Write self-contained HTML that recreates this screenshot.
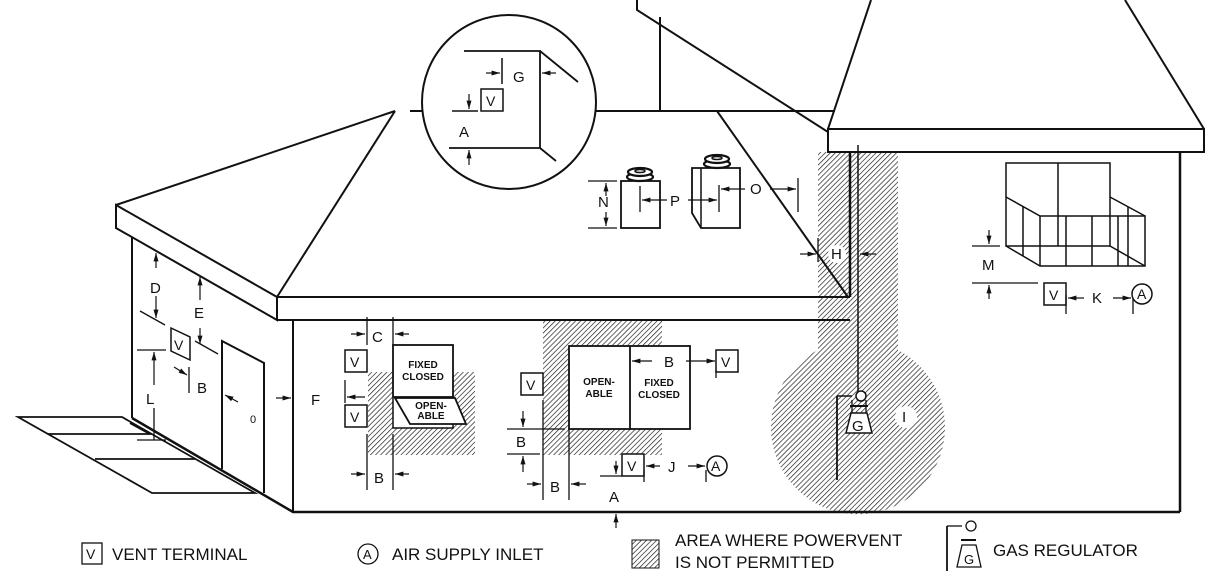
<!DOCTYPE html>
<html><head><meta charset="utf-8"><style>
html,body{margin:0;padding:0;background:#fff;}
svg{display:block;}
text{font-family:"Liberation Sans",Arial,sans-serif;fill:#111;}
</style></head><body>
<svg width="1223" height="584" viewBox="0 0 1223 584" xmlns="http://www.w3.org/2000/svg">
<defs>
<pattern id="h" width="3.6" height="3.6" patternUnits="userSpaceOnUse" patternTransform="rotate(45)">
<rect width="3.6" height="3.6" fill="#fff"/><line x1="0" y1="0" x2="0" y2="3.6" stroke="#222" stroke-width="1.4"/>
</pattern>
<marker id="ar" viewBox="0 0 10 10" refX="10" refY="5" markerWidth="7" markerHeight="7" orient="auto-start-reverse"><path d="M0,2 L10,5 L0,8 z" fill="#111"/></marker>
</defs>
<g stroke="#111" fill="none" stroke-width="2">
<rect x="368" y="372" width="107" height="83" fill="url(#h)" stroke="none"/>
<rect x="543" y="321" width="119" height="134" fill="url(#h)" stroke="none"/>
<path d="M818,152 H898 V350 A87,87 0 1 1 818,350 Z" fill="url(#h)" stroke="none"/>

<path d="M637,0 L637,10 L828,132" />
<line x1="828" y1="129" x2="871" y2="0"/>
<line x1="1204" y1="129" x2="1125" y2="0"/>
<rect x="828" y="129" width="376" height="23" fill="#fff"/>
<line x1="850" y1="152" x2="850" y2="297" stroke-width="2.5"/>
<line x1="858" y1="145" x2="858" y2="400" stroke-width="1.5"/>
<line x1="1180" y1="152" x2="1180" y2="512" stroke-width="2.5"/>
<line x1="660" y1="17" x2="660" y2="111"/>

<line x1="596" y1="111" x2="835" y2="111"/>
<line x1="717" y1="111" x2="848" y2="297"/>
<line x1="277" y1="297" x2="395" y2="111"/>
<line x1="116" y1="205" x2="395" y2="111"/>
<path d="M116,205 L116,228 L277,320 L277,297 Z" fill="#fff"/>
<path d="M277,297 H850" />
<path d="M277,320 H850" />

<line x1="293" y1="320" x2="293" y2="512"/>
<line x1="132" y1="237" x2="132" y2="418"/>
<path d="M132,418 L293,512 H1180" stroke-width="2.5"/>
<path d="M130,423 L150,434" />
<path d="M18,417 H122 L255,493 H152 Z" stroke-width="1.8"/>
<line x1="48" y1="434" x2="152" y2="434" stroke-width="1.8"/>
<line x1="95" y1="459" x2="195" y2="459" stroke-width="1.8"/>
<path d="M222,469 V341 L264,363 V493" />

<circle cx="509" cy="102" r="87" fill="#fff"/>
<line x1="410" y1="111" x2="422" y2="111"/>
<path d="M464,51 H540 V148 H449" stroke-width="1.8"/>
<line x1="540" y1="51" x2="578" y2="82" stroke-width="1.8"/>
<line x1="540" y1="148" x2="556" y2="161" stroke-width="1.8"/>
<rect x="481" y="89" width="22" height="22" stroke-width="1.5"/>
<line x1="502" y1="58" x2="502" y2="84" stroke-width="1.5"/>
<line x1="486" y1="73" x2="500" y2="73" stroke-width="1.2" marker-end="url(#ar)"/>
<line x1="556" y1="73" x2="542" y2="73" stroke-width="1.2" marker-end="url(#ar)"/>
<line x1="452" y1="111" x2="478" y2="111" stroke-width="1.5"/>
<line x1="469" y1="94" x2="469" y2="109" stroke-width="1.2" marker-end="url(#ar)"/>
<line x1="469" y1="165" x2="469" y2="150" stroke-width="1.2" marker-end="url(#ar)"/>

<rect x="621" y="181" width="39" height="47" fill="#fff" stroke-width="1.8"/>
<path d="M692,168 H740 V228 H701 L692,213 Z" fill="#fff" stroke-width="1.8"/>
<line x1="701" y1="168" x2="701" y2="228" stroke-width="1.5"/>
<ellipse cx="640" cy="177" rx="13" ry="4" fill="#fff" stroke-width="2.2"/>
<ellipse cx="640" cy="172" rx="12" ry="4" fill="#fff" stroke-width="2.2"/>
<ellipse cx="640" cy="171" rx="5" ry="1.5" fill="#fff" stroke-width="1.5"/>
<ellipse cx="717" cy="164" rx="13" ry="4" fill="#fff" stroke-width="2.2"/>
<ellipse cx="717" cy="159" rx="12" ry="4" fill="#fff" stroke-width="2.2"/>
<ellipse cx="717" cy="158" rx="5" ry="1.5" fill="#fff" stroke-width="1.5"/>
<line x1="588" y1="181" x2="617" y2="181" stroke-width="1.3"/>
<line x1="588" y1="228" x2="617" y2="228" stroke-width="1.3"/>
<line x1="606" y1="196" x2="606" y2="183" stroke-width="1.2" marker-end="url(#ar)"/>
<line x1="606" y1="212" x2="606" y2="226" stroke-width="1.2" marker-end="url(#ar)"/>
<line x1="640" y1="186" x2="640" y2="212" stroke-width="1.3"/>
<line x1="667" y1="200" x2="642" y2="200" stroke-width="1.2" marker-end="url(#ar)"/>
<line x1="688" y1="200" x2="717" y2="200" stroke-width="1.2" marker-end="url(#ar)"/>
<line x1="719" y1="185" x2="719" y2="212" stroke-width="1.3"/>
<line x1="745" y1="189" x2="721" y2="189" stroke-width="1.2" marker-end="url(#ar)"/>
<line x1="770" y1="189" x2="796" y2="189" stroke-width="1.2" marker-end="url(#ar)"/>
<line x1="798" y1="178" x2="798" y2="212" stroke-width="1.3"/>

<line x1="818" y1="238" x2="818" y2="262" stroke-width="1.3"/>
<line x1="800" y1="254" x2="816" y2="254" stroke-width="1.2" marker-end="url(#ar)"/>
<line x1="876" y1="254" x2="860" y2="254" stroke-width="1.2" marker-end="url(#ar)"/>
<circle cx="837" cy="254" r="9" fill="#fff" stroke="none"/>
<circle cx="906" cy="417" r="11" fill="#fff" stroke="none"/>

<g stroke-width="1.5">
<rect x="1006" y="163" width="104" height="83"/>
<line x1="1058" y1="163" x2="1058" y2="246"/>
<path d="M1006,197 L1040,216 H1145 V266 H1040 L1006,246"/>
<line x1="1110" y1="197" x2="1145" y2="216"/>
<line x1="1110" y1="246" x2="1145" y2="266"/>
<line x1="1040" y1="216" x2="1040" y2="266"/>
<line x1="1023" y1="206" x2="1023" y2="256"/>
<line x1="1066" y1="216" x2="1066" y2="266"/>
<line x1="1092" y1="216" x2="1092" y2="266"/>
<line x1="1118" y1="216" x2="1118" y2="266"/>
<line x1="1128" y1="207" x2="1128" y2="266"/>
</g>
<line x1="972" y1="246" x2="1000" y2="246" stroke-width="1.3"/>
<line x1="972" y1="283" x2="1038" y2="283" stroke-width="1.3"/>
<line x1="989" y1="230" x2="989" y2="244" stroke-width="1.2" marker-end="url(#ar)"/>
<line x1="989" y1="299" x2="989" y2="285" stroke-width="1.2" marker-end="url(#ar)"/>
<rect x="1044" y="283" width="22" height="22" stroke-width="1.5" fill="#fff"/>
<line x1="1066" y1="295" x2="1066" y2="314" stroke-width="1.3"/>
<line x1="1084" y1="298" x2="1068" y2="298" stroke-width="1.2" marker-end="url(#ar)"/>
<line x1="1113" y1="298" x2="1131" y2="298" stroke-width="1.2" marker-end="url(#ar)"/>
<line x1="1133" y1="295" x2="1133" y2="314" stroke-width="1.3"/>
<circle cx="1142" cy="294" r="10" fill="#fff" stroke-width="1.5"/>

<line x1="156" y1="268" x2="156" y2="253" stroke-width="1.2" marker-end="url(#ar)"/>
<line x1="156" y1="296" x2="156" y2="318" stroke-width="1.2" marker-end="url(#ar)"/>
<line x1="140" y1="311" x2="165" y2="325" stroke-width="1.3"/>
<line x1="200" y1="300" x2="200" y2="277" stroke-width="1.2" marker-end="url(#ar)"/>
<line x1="200" y1="328" x2="200" y2="344" stroke-width="1.2" marker-end="url(#ar)"/>
<line x1="195" y1="341" x2="218" y2="354" stroke-width="1.3"/>
<path d="M171,328 L190,337 V360 L171,351 Z" stroke-width="1.5" fill="#fff"/>
<line x1="137" y1="350" x2="166" y2="350" stroke-width="1.3"/>
<line x1="154" y1="385" x2="154" y2="352" stroke-width="1.2" marker-end="url(#ar)"/>
<line x1="154" y1="408" x2="154" y2="440" stroke-width="1.3"/>
<line x1="137" y1="440" x2="166" y2="440" stroke-width="1.3"/>
<line x1="174" y1="367" x2="187" y2="375" stroke-width="1.2" marker-end="url(#ar)"/>
<line x1="189" y1="367" x2="189" y2="393" stroke-width="1.3"/>
<line x1="225" y1="395" x2="238" y2="402" stroke-width="1.2" marker-start="url(#ar)"/>
<line x1="276" y1="398" x2="291" y2="398" stroke-width="1.2" marker-end="url(#ar)"/>

<line x1="367" y1="317" x2="367" y2="345" stroke-width="1.3"/>
<line x1="393" y1="317" x2="393" y2="345" stroke-width="1.3"/>
<line x1="351" y1="334" x2="365" y2="334" stroke-width="1.2" marker-end="url(#ar)"/>
<line x1="409" y1="334" x2="395" y2="334" stroke-width="1.2" marker-end="url(#ar)"/>
<rect x="393" y="345" width="60" height="52" fill="#fff" stroke-width="1.8"/>
<path d="M393,398 V428 H453 V424" stroke-width="1.5" fill="#fff"/>
<path d="M395,398 H455 L466,424 H410 Z" fill="#fff" stroke-width="1.8"/>
<rect x="345" y="350" width="22" height="22" fill="#fff" stroke-width="1.5"/>
<rect x="345" y="405" width="22" height="22" fill="#fff" stroke-width="1.5"/>
<line x1="345" y1="380" x2="345" y2="403" stroke-width="1.3"/>
<line x1="365" y1="397" x2="347" y2="397" stroke-width="1.2" marker-end="url(#ar)"/>
<line x1="367" y1="434" x2="367" y2="490" stroke-width="1.3"/>
<line x1="393" y1="434" x2="393" y2="490" stroke-width="1.3"/>
<line x1="351" y1="474" x2="365" y2="474" stroke-width="1.2" marker-end="url(#ar)"/>
<line x1="409" y1="474" x2="395" y2="474" stroke-width="1.2" marker-end="url(#ar)"/>

<rect x="569" y="346" width="121" height="83" fill="#fff" stroke-width="1.8"/>
<line x1="630" y1="346" x2="630" y2="429" stroke-width="1.8"/>
<line x1="652" y1="361" x2="632" y2="361" stroke-width="1.2" marker-end="url(#ar)"/>
<line x1="686" y1="361" x2="715" y2="361" stroke-width="1.2" marker-end="url(#ar)"/>
<rect x="716" y="350" width="22" height="22" fill="#fff" stroke-width="1.5"/>
<line x1="716" y1="370" x2="716" y2="378" stroke-width="1.3"/>
<rect x="521" y="373" width="22" height="22" fill="#fff" stroke-width="1.5"/>
<line x1="543" y1="400" x2="543" y2="500" stroke-width="1.3"/>
<line x1="569" y1="429" x2="569" y2="500" stroke-width="1.3"/>
<line x1="507" y1="429" x2="565" y2="429" stroke-width="1.3"/>
<line x1="507" y1="454" x2="540" y2="454" stroke-width="1.3"/>
<line x1="523" y1="411" x2="523" y2="427" stroke-width="1.2" marker-end="url(#ar)"/>
<line x1="523" y1="472" x2="523" y2="456" stroke-width="1.2" marker-end="url(#ar)"/>
<line x1="527" y1="484" x2="541" y2="484" stroke-width="1.2" marker-end="url(#ar)"/>
<line x1="586" y1="484" x2="571" y2="484" stroke-width="1.2" marker-end="url(#ar)"/>
<rect x="622" y="454" width="22" height="22" fill="#fff" stroke-width="1.5"/>
<line x1="600" y1="476" x2="622" y2="476" stroke-width="1.3"/>
<line x1="616" y1="461" x2="616" y2="474" stroke-width="1.2" marker-end="url(#ar)"/>
<line x1="644" y1="470" x2="644" y2="482" stroke-width="1.3"/>
<line x1="660" y1="466" x2="646" y2="466" stroke-width="1.2" marker-end="url(#ar)"/>
<line x1="688" y1="466" x2="705" y2="466" stroke-width="1.2" marker-end="url(#ar)"/>
<line x1="706" y1="470" x2="706" y2="482" stroke-width="1.3"/>
<circle cx="717" cy="466" r="10" fill="#fff" stroke-width="1.5"/>
<line x1="616" y1="528" x2="616" y2="514" stroke-width="1.2" marker-end="url(#ar)"/>

<line x1="837" y1="396" x2="837" y2="480" stroke-width="1.8"/>
<line x1="837" y1="396" x2="852" y2="396" stroke-width="1.5"/>
<circle cx="861" cy="396" r="5" fill="#fff" stroke-width="1.5"/>
<line x1="850" y1="406" x2="868" y2="406" stroke-width="2"/>
<path d="M851,413 H867 L872,433 H846 Z" fill="#fff" stroke-width="1.5"/>
<line x1="852" y1="400" x2="852" y2="413" stroke-width="1.3"/>
<line x1="866" y1="400" x2="866" y2="413" stroke-width="1.3"/>

<rect x="82" y="543" width="20" height="21" stroke-width="1.3"/>
<circle cx="368" cy="554" r="10" stroke-width="1.3"/>
<rect x="632" y="540" width="27" height="28" fill="url(#h)" stroke-width="1"/>
<line x1="947" y1="526" x2="947" y2="571" stroke-width="1.8"/>
<line x1="947" y1="526" x2="962" y2="526" stroke-width="1.3"/>
<circle cx="971" cy="526" r="5" stroke-width="1.3"/>
<line x1="961" y1="540" x2="976" y2="540" stroke-width="2"/>
<path d="M962,545 H976 L981,567 H957 Z" stroke-width="1.3"/>
</g>

<g font-size="15">
<text x="513" y="82">G</text>
<text x="486" y="106" font-size="14">V</text>
<text x="459" y="137">A</text>
<text x="598" y="207">N</text>
<text x="670" y="206">P</text>
<text x="750" y="194">O</text>
<text x="831" y="259">H</text>
<text x="902" y="422">I</text>
<text x="982" y="270">M</text>
<text x="1049" y="300" font-size="14">V</text>
<text x="1092" y="303">K</text>
<text x="1137" y="299" font-size="14">A</text>
<text x="150" y="293">D</text>
<text x="194" y="318">E</text>
<text x="174" y="350" font-size="14">V</text>
<text x="146" y="404">L</text>
<text x="197" y="393">B</text>
<text x="250" y="423" font-size="11">0</text>
<text x="311" y="405">F</text>
<text x="372" y="342">C</text>
<text x="350" y="367" font-size="14">V</text>
<text x="350" y="422" font-size="14">V</text>
<text x="374" y="483">B</text>
<text x="664" y="367">B</text>
<text x="721" y="367" font-size="14">V</text>
<text x="526" y="390" font-size="14">V</text>
<text x="516" y="447">B</text>
<text x="550" y="492">B</text>
<text x="627" y="471" font-size="14">V</text>
<text x="668" y="472">J</text>
<text x="711" y="471" font-size="14">A</text>
<text x="609" y="502">A</text>
<text x="852" y="431">G</text>
</g>
<g font-size="10" font-weight="bold" text-anchor="middle">
<text x="423" y="368">FIXED</text><text x="423" y="380">CLOSED</text>
<text x="431" y="409">OPEN-</text><text x="431" y="419">ABLE</text>
<text x="599" y="385">OPEN-</text><text x="599" y="397">ABLE</text>
<text x="659" y="386">FIXED</text><text x="659" y="398">CLOSED</text>
</g>
<g font-size="17">
<text x="86" y="559" font-size="14">V</text>
<text x="112" y="560">VENT TERMINAL</text>
<text x="363" y="559" font-size="13">A</text>
<text x="392" y="560">AIR SUPPLY INLET</text>
<text x="675" y="546">AREA WHERE POWERVENT</text>
<text x="675" y="568">IS NOT PERMITTED</text>
<text x="993" y="556">GAS REGULATOR</text>
<text x="964" y="564" font-size="13">G</text>
</g>
</svg>
</body></html>
